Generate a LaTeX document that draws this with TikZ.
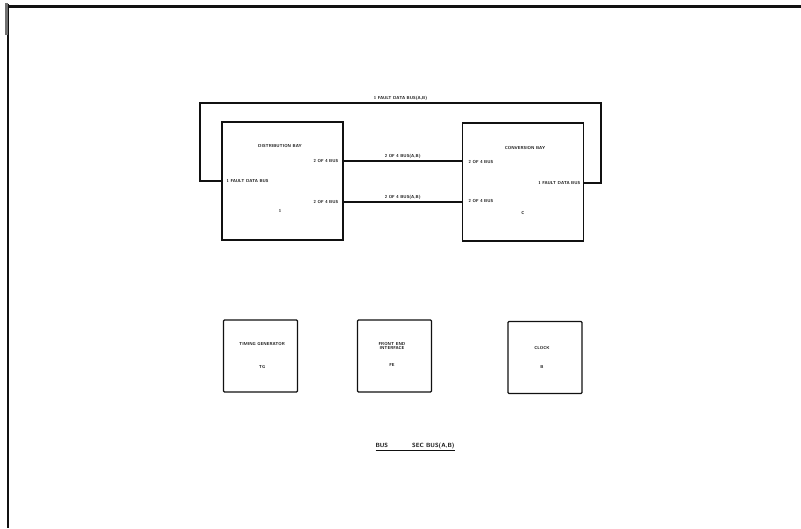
\documentclass[tikz,border=0pt]{standalone}
\usepackage{tikz}
\usetikzlibrary{calc,positioning}
\definecolor{ScanInk}{HTML}{111111}

\begin{document}
\begin{tikzpicture}[x=1pt,y=-1pt,font=\fontsize{4.3}{4.9}\selectfont\sffamily\bfseries,
    bay/.style={draw=ScanInk,line width=1.1pt,minimum width=121pt,minimum height=118pt,inner sep=0pt},
    unit/.style={draw=ScanInk,line width=1.1pt,rounded corners=1pt,minimum width=74pt,minimum height=72pt,inner sep=0pt},
    bus/.style={draw=ScanInk,line width=1.1pt},
    tag/.style={text=ScanInk,inner sep=0.5pt,align=center}]
  \useasboundingbox (0,0) rectangle (801,528);
  % sheet edge
  \draw[ScanInk,line width=3pt] (7,6) -- (801,6);
  \draw[ScanInk,line width=2pt] (8,4) -- (8,528);
  \draw[ScanInk!60,line width=2.5pt] (6.5,3) -- (6.5,35);

  % bays
  \node[bay] (dbay) at (282.5,181) {};
  \node[bay] (cbay) at (523,182) {};
  \node[tag] (dtitle) at (280,146) {DISTRIBUTION BAY};
  \node[tag,anchor=east] (dbusa) at (339,161) {2 OF 4 BUS};
  \node[tag,anchor=west] (dfault) at (226,181) {1 FAULT DATA BUS};
  \node[tag,anchor=east] (dbusb) at (339,202) {2 OF 4 BUS};
  \node[tag] (dnum) at (280,211) {1};
  \node[tag] (ctitle) at (525,148) {CONVERSION BAY};
  \node[tag,anchor=west] (cbusa) at (468,162) {2 OF 4 BUS};
  \node[tag,anchor=east] (cfault) at (581,183) {1 FAULT DATA BUS};
  \node[tag,anchor=west] (cbusb) at (468,201) {2 OF 4 BUS};
  \node[tag] (cnum) at (523,213) {C};

  % buses between bays
  \draw[bus] (dbay.east |- dbusa) -- node[tag,above=1pt] (abus) {2 OF 4 BUS(A,B)} (cbay.west |- dbusa);
  \draw[bus] (dbay.east |- dbusb) -- node[tag,above=1pt] (bbus) {2 OF 4 BUS(A,B)} (cbay.west |- dbusb);

  % fault data loop
  \coordinate (loopl) at (200,103);
  \coordinate (loopr) at (601,103);
  \draw[bus] (dbay.west |- dfault) -- (loopl |- dfault) -- (loopl)
    -- node[tag,above=1pt] (floop) {1 FAULT DATA BUS(A,B)} (loopr)
    -- (loopr |- cfault) -- (cbay.east |- cfault);

  % support units
  \node[unit] (tgen) at (260.5,356) {};
  \node[unit] (fend) at (394.5,356) {};
  \node[unit] (clk) at (545,357.5) {};
  \node[tag] (tgname) at (262,344) {TIMING GENERATOR};
  \node[tag] (tgtag) at (262,367) {TG};
  \node[tag] (fename) at (392,346) {FRONT END\\INTERFACE};
  \node[tag] (fetag) at (392,365) {FE};
  \node[tag] (ckname) at (542,348) {CLOCK};
  \node[tag] (cktag) at (542,367) {B};

  % caption
  \node[tag,font=\fontsize{6}{7}\selectfont\sffamily\bfseries] (cap) at (415,447)
    {\underline{BUS\hspace{24pt}SEC BUS(A,B)}};
\end{tikzpicture}
\end{document}
